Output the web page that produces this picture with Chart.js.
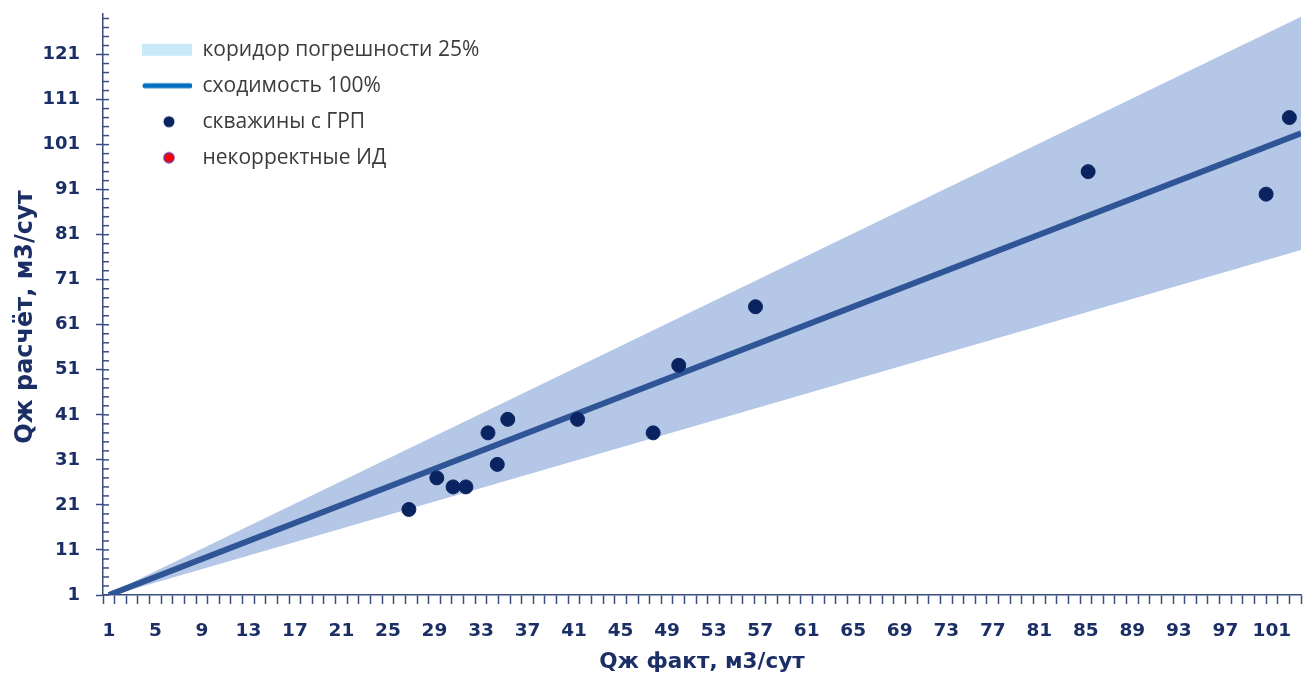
<!DOCTYPE html>
<html>
<head>
<meta charset="utf-8">
<script src="https://cdn.jsdelivr.net/npm/chart.js@4.4.1/dist/chart.umd.min.js"></script>
<style>
  html, body { margin: 0; padding: 0; background: #ffffff; }
  #wrap { width: 1309px; height: 675px; position: relative; }
</style>
</head>
<body>
<div id="wrap"><canvas id="chart"></canvas></div>
<script>
// Wells with hydraulic fracturing: measured vs calculated liquid rate, m3/day
const wellsFact = [26.8, 29.2, 30.6, 31.7, 33.6, 34.4, 35.3, 41.3, 47.8, 50.0, 56.6, 85.2, 100.5, 102.5];
const wellsCalc = [20, 27, 25, 25, 37, 30, 40, 40, 37, 52, 65, 95, 90, 107];

// Wells with invalid input data (none in this sample)
const invalidFact = [];
const invalidCalc = [];

// 100% agreement line and the ±25% error corridor around it
const refX = [1, 103.5];
const refY = [1, 103.5];
const corridorUpper = [1.25, 129.4];
const corridorLower = [0.75, 77.6];

// Axis labelling
const xCategories = 103;
const xTickLabels = [1, 5, 9, 13, 17, 21, 25, 29, 33, 37, 41, 45, 49, 53, 57, 61, 65, 69, 73, 77, 81, 85, 89, 93, 97, 101];
const yTickLabels = [1, 11, 21, 31, 41, 51, 61, 71, 81, 91, 101, 111, 121];
const yMinorStep = 2;

const AXIS = '#3a4c80';
const LABEL = '#1b2f66';

const toPoints = (xs, ys) => xs.map((x, i) => ({ x: x, y: ys[i] }));

// Legend swatches
const SW_W = 74, SW_H = 16, SW_X = 24;
function swatch(draw) {
  const c = document.createElement('canvas');
  c.width = SW_W; c.height = SW_H;
  draw(c.getContext('2d'));
  return c;
}
const swCorridor = swatch(g => { g.fillStyle = '#c7e9fa'; g.fillRect(SW_X, 2, 50, 12); });
const swLine = swatch(g => {
  g.strokeStyle = '#0070c0'; g.lineWidth = 5; g.lineCap = 'round';
  g.beginPath(); g.moveTo(SW_X + 3, 8); g.lineTo(SW_W - 2, 8); g.stroke();
});
const swWells = swatch(g => {
  g.fillStyle = '#0a2461'; g.beginPath(); g.arc(51, 8, 5.5, 0, Math.PI * 2); g.fill();
});
const swInvalid = swatch(g => {
  g.fillStyle = '#ff0000'; g.strokeStyle = '#7030a0'; g.lineWidth = 1.5;
  g.beginPath(); g.arc(51, 8, 5, 0, Math.PI * 2); g.fill(); g.stroke();
});
const swatches = [swCorridor, swLine, swWells, swInvalid];

// Short inner tick marks on the value axis
const innerTicks = {
  id: 'innerTicks',
  afterDatasetsDraw(chart) {
    const ys = chart.scales.y;
    const left = chart.chartArea.left;
    const ctx = chart.ctx;
    ctx.save();
    ctx.strokeStyle = AXIS;
    ctx.lineWidth = 1.5;
    ys.ticks.forEach(t => {
      const py = ys.getPixelForValue(t.value);
      ctx.beginPath();
      ctx.moveTo(left, py);
      ctx.lineTo(left + 6, py);
      ctx.stroke();
    });
    ctx.restore();
  }
};

new Chart(document.getElementById('chart'), {
  type: 'scatter',
  data: {
    datasets: [
      {
        label: 'коридор погрешности 25%',
        data: toPoints(refX, corridorUpper),
        showLine: true,
        borderWidth: 0,
        borderColor: 'rgba(0,0,0,0)',
        backgroundColor: '#b4c7e7',
        pointRadius: 0,
        fill: 4,
        order: 3
      },
      {
        label: 'сходимость 100%',
        data: toPoints(refX, refY),
        showLine: true,
        borderColor: '#2f5597',
        borderWidth: 6,
        pointRadius: 0,
        fill: false,
        order: 2
      },
      {
        label: 'скважины с ГРП',
        data: toPoints(wellsFact, wellsCalc),
        backgroundColor: '#0a2461',
        borderColor: '#0a2461',
        pointRadius: 7,
        order: 1
      },
      {
        label: 'некорректные ИД',
        data: toPoints(invalidFact, invalidCalc),
        backgroundColor: '#ff0000',
        borderColor: '#7030a0',
        pointRadius: 6,
        order: 0
      },
      {
        label: 'нижняя граница коридора',
        data: toPoints(refX, corridorLower),
        showLine: true,
        borderWidth: 0,
        borderColor: 'rgba(0,0,0,0)',
        pointRadius: 0,
        fill: false,
        order: 4
      }
    ]
  },
  options: {
    responsive: true,
    maintainAspectRatio: false,
    animation: false,
    layout: { padding: { top: 14, right: 3, bottom: 0, left: 0 } },
    plugins: {
      tooltip: { enabled: false },
      legend: {
        position: 'chartArea',
        align: 'start',
        title: { display: true, text: ' ', font: { size: 1 }, padding: { top: 23, bottom: 0 } },
        labels: {
          usePointStyle: true,
          pointStyleWidth: SW_W,
          padding: 15,
          color: '#3b3b3b',
          font: { family: 'Open Sans', size: 21 },
          generateLabels: (chart) => chart.data.datasets.slice(0, 4).map((ds, i) => ({
            text: ds.label,
            pointStyle: swatches[i],
            fillStyle: 'rgba(0,0,0,0)',
            strokeStyle: 'rgba(0,0,0,0)',
            lineWidth: 0,
            fontColor: '#3b3b3b',
            hidden: false,
            datasetIndex: i
          }))
        }
      }
    },
    scales: {
      x: {
        type: 'linear',
        min: 0.5,
        max: xCategories + 0.5,
        afterBuildTicks: (scale) => {
          const t = [];
          for (let v = 1; v <= xCategories; v++) t.push({ value: v });
          scale.ticks = t;
        },
        afterFit: (scale) => {
          scale.height = 80;
          scale.paddingLeft = 0;
          scale.paddingRight = 0;
        },
        border: { display: true, color: AXIS, width: 1.5 },
        grid: {
          offset: true,
          drawOnChartArea: false,
          drawTicks: true,
          tickLength: 9,
          tickColor: AXIS,
          tickWidth: 1.5
        },
        ticks: {
          autoSkip: false,
          maxRotation: 0,
          minRotation: 0,
          padding: 16,
          color: LABEL,
          font: { family: 'DejaVu Sans', size: 18.5, weight: 'bold' },
          callback: (v) => xTickLabels.includes(v) ? String(v) : ''
        },
        title: {
          display: true,
          text: 'Qж факт, м3/сут',
          color: LABEL,
          font: { family: 'DejaVu Sans', size: 21.5, weight: 'bold', lineHeight: 1.2 },
          padding: { top: 0, bottom: 0 }
        }
      },
      y: {
        type: 'linear',
        min: 1,
        max: 130,
        afterBuildTicks: (scale) => {
          const t = [];
          for (let v = 1; v <= 129; v += yMinorStep) t.push({ value: v });
          scale.ticks = t;
        },
        afterFit: (scale) => {
          scale.width = 103;
          scale.paddingTop = 0;
          scale.paddingBottom = 0;
        },
        border: { display: true, color: AXIS, width: 1.5 },
        grid: {
          drawOnChartArea: false,
          drawTicks: true,
          tickLength: 7,
          tickWidth: 1.5,
          tickColor: (ctx) => (ctx.tick && yTickLabels.includes(ctx.tick.value)) ? AXIS : 'rgba(0,0,0,0)'
        },
        ticks: {
          autoSkip: false,
          padding: 16,
          color: LABEL,
          font: { family: 'DejaVu Sans', size: 18, weight: 'bold' },
          callback: (v) => yTickLabels.includes(v) ? String(v) : ''
        },
        title: {
          display: true,
          text: 'Qж расчёт, м3/сут   ',
          color: LABEL,
          font: { family: 'DejaVu Sans', size: 24, weight: 'bold', lineHeight: 1.2 },
          padding: { top: 11, bottom: 0 }
        }
      }
    }
  },
  plugins: [innerTicks]
});
</script>
</body>
</html>
